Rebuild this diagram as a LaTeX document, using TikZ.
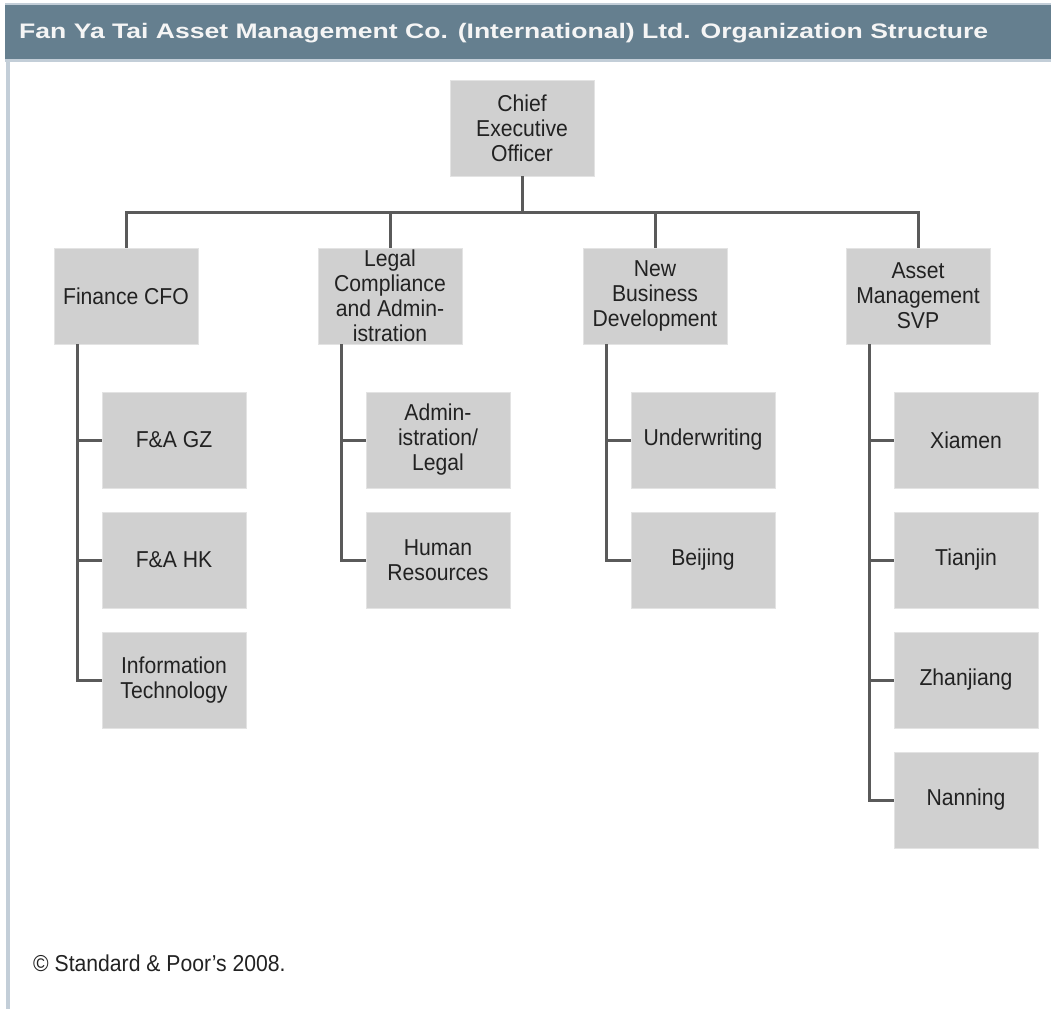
\documentclass[tikz,border=0pt]{standalone}
\usepackage{fontspec}
\setmainfont{Liberation Sans}[FakeStretch=0.92]
\newfontfamily\hdrfont{Liberation Sans}[FakeStretch=1.0]
\definecolor{hdrblue}{HTML}{657F8F}
\definecolor{edgeblue}{HTML}{C3CED8}
\definecolor{boxgray}{HTML}{D0D0D0}
\definecolor{linegray}{HTML}{5A5A5A}
\definecolor{txt}{HTML}{222222}
\tikzset{
  orgbox/.style={fill=boxgray, draw=boxgray!60!white, line width=0.8pt, minimum width=144pt, minimum height=96pt,
    inner sep=0pt, align=center, text=txt, font=\fontsize{23}{25}\selectfont},
  conn/.style={draw=linegray, line width=3pt},
}
\begin{document}
\begin{tikzpicture}[x=1pt,y=-1pt]
\useasboundingbox (0,0) rectangle (1051,1009);
\fill[white] (0,0) rectangle (1051,1009);
% header
\fill[edgeblue] (5,2.5) rectangle (1051,5);
\fill[hdrblue] (5,5) rectangle (1051,59);
\fill[edgeblue] (5,59) rectangle (1051,61.5);
\fill[edgeblue] (6,59) rectangle (10,1009);
\node[anchor=base west, inner sep=0pt, text=white!96!black] (title) at (19,38)
  {\resizebox{969pt}{\height}{\hdrfont\bfseries\fontsize{21}{24}\selectfont Fan Ya Tai Asset Management Co. (International) Ltd. Organization Structure}};
% top
\node[orgbox] (ceo) at (522,128) {Chief\\Executive\\Officer};
% level 1
\node[orgbox] (fin) at (126,296) {Finance CFO};
\node[orgbox] (leg) at (390,296) {Legal\\Compliance\\and Admin-\\istration};
\node[orgbox] (nbd) at (655,296) {New\\Business\\Development};
\node[orgbox] (am)  at (918,296) {Asset\\Management\\SVP};
% finance children
\node[orgbox] (gz) at (174,440) {F\&A GZ};
\node[orgbox] (hk) at (174,560) {F\&A HK};
\node[orgbox] (it) at (174,680) {Information\\Technology};
% legal children
\node[orgbox] (adm) at (438,440) {Admin-\\istration/\\Legal};
\node[orgbox] (hr)  at (438,560) {Human\\Resources};
% nbd children
\node[orgbox] (uw) at (703,440) {Underwriting};
\node[orgbox] (bj) at (703,560) {Beijing};
% am children
\node[orgbox] (xm) at (966,440) {Xiamen};
\node[orgbox] (tj) at (966,560) {Tianjin};
\node[orgbox] (zj) at (966,680) {Zhanjiang};
\node[orgbox] (nn) at (966,800) {Nanning};
% bus
\coordinate (bus) at (0,212);
\draw[conn] (ceo.south) -- (ceo.south |- bus);
\draw[conn] (fin.north) -- (fin.north |- bus) -- (am.north |- bus) -- (am.north);
\draw[conn] (leg.north) -- (leg.north |- bus);
\draw[conn] (nbd.north) -- (nbd.north |- bus);
% spines
\draw[conn] ([xshift=24pt]fin.south west) |- (it.west);
\draw[conn] (gz.west) -- ++(-24,0);
\draw[conn] (hk.west) -- ++(-24,0);
\draw[conn] ([xshift=24pt]leg.south west) |- (hr.west);
\draw[conn] (adm.west) -- ++(-24,0);
\draw[conn] ([xshift=24pt]nbd.south west) |- (bj.west);
\draw[conn] (uw.west) -- ++(-24,0);
\draw[conn] ([xshift=24pt]am.south west) |- (nn.west);
\draw[conn] (xm.west) -- ++(-24,0);
\draw[conn] (tj.west) -- ++(-24,0);
\draw[conn] (zj.west) -- ++(-24,0);
% footer
\node[anchor=base west, inner sep=0pt, text=txt, font=\fontsize{23}{25}\selectfont] (foot) at (33,971) {© Standard \& Poor’s 2008.};
\end{tikzpicture}
\end{document}
